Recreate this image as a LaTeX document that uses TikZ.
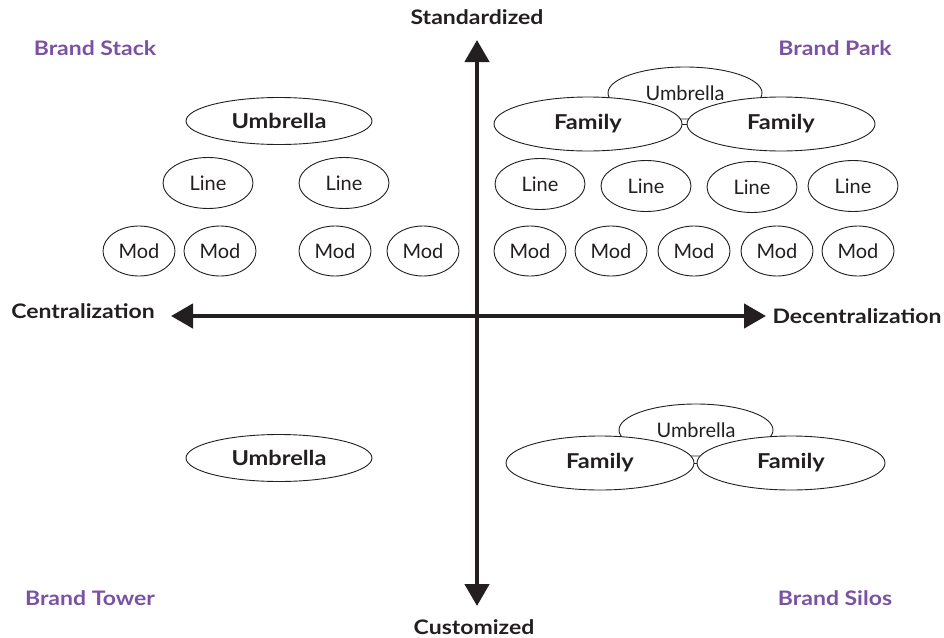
\documentclass[tikz,border=0pt]{standalone}
\usepackage{fontspec}
\setmainfont{Lato}
\newfontfamily\widefont[FakeStretch=1.15]{Lato}
\usetikzlibrary{shapes.geometric,arrows.meta}
\definecolor{brandpurple}{RGB}{123,81,161}
\definecolor{inkgray}{RGB}{35,31,32}

\begin{document}
\begin{tikzpicture}[x=1pt,y=-1pt]
		\tikzset{
			oval/.style={
				draw=inkgray, ellipse, fill=white, line width=0.9pt, inner sep=0pt,
				text=inkgray, font=\fontsize{20}{22}\selectfont
			},
			umbroval/.style={
				oval, minimum width=186pt, minimum height=47pt,
				font=\widefont\fontsize{20.5}{22}\selectfont\bfseries
			},
			famoval/.style={
				umbroval, minimum width=188pt, minimum height=54pt
			},
			topoval/.style={
				oval, minimum width=154pt, minimum height=52pt
			},
			lineoval/.style={
				oval, minimum width=90pt, minimum height=51pt
			},
			modoval/.style={
				oval, minimum width=72pt, minimum height=50pt
			},
			axis/.style={
				draw=inkgray, line width=4.5pt,
				{Triangle[width=24pt,length=22pt]}-{Triangle[width=24pt,length=22pt]}
			},
			axlabel/.style={
				text=inkgray, font=\widefont\fontsize{20}{22}\selectfont\bfseries
			},
			brand/.style={
				text=brandpurple, font=\widefont\fontsize{20}{22}\selectfont\bfseries
			}
		}
		\useasboundingbox (0,0) rectangle (944,637);
		
		% axes
		\coordinate (N) at (477,40);
		\coordinate (S) at (477,606);
		\coordinate (W) at (171,316);
		\coordinate (E) at (766,316);
		\draw [axis] (S) -- (N);
		\draw [axis] (W) -- (E);
		
		\node [axlabel] (std) at (477,17) {Standardized};
		\node [axlabel] (cus) at (474,627) {Customized};
		\node [axlabel] (cen) at (83,311) {Centralization};
		\node [axlabel] (dec) at (857,316) {Decentralization};
		
		\node [brand] (stack) at (95,48) {Brand Stack};
		\node [brand] (park) at (835,48) {Brand Park};
		\node [brand] (tower) at (90,598) {Brand Tower};
		\node [brand] (silos) at (835,598) {Brand Silos};
		
		% brand stack
		\node [umbroval] (su) at (279,121) {Umbrella};
		\node [lineoval] (sl1) at (208,183) {Line};
		\node [lineoval] (sl2) at (344,183) {Line};
		\foreach \x [count=\i] in {139, 220, 335, 423}{
			\node [modoval] (sm\i) at (\x,251) {Mod};
		}
		
		% brand park
		\node [topoval] (pu) at (685,93) {Umbrella};
		\node [famoval] (pf1) at (588,124) {Family};
		\node [famoval] (pf2) at (781,124) {Family};
		\draw [inkgray, line width=0.9pt] (pf1.east) -- (pf2.west);
		\foreach \x/\y [count=\i] in {540/184, 646/186, 752/187, 853/186}{
			\node [lineoval] (pl\i) at (\x,\y) {Line};
		}
		\foreach \x [count=\i] in {530, 611, 694, 777, 858}{
			\node [modoval] (pm\i) at (\x,251) {Mod};
		}
		
		% brand tower
		\node [umbroval] (tu) at (279,458) {Umbrella};
		
		% brand silos
		\node [topoval] (iu) at (696,430) {Umbrella};
		\node [famoval] (if1) at (600,463) {Family};
		\node [famoval] (if2) at (791,463) {Family};
		\draw [inkgray, line width=0.9pt] (if1.east) -- (if2.west);
\end{tikzpicture}
\end{document}
